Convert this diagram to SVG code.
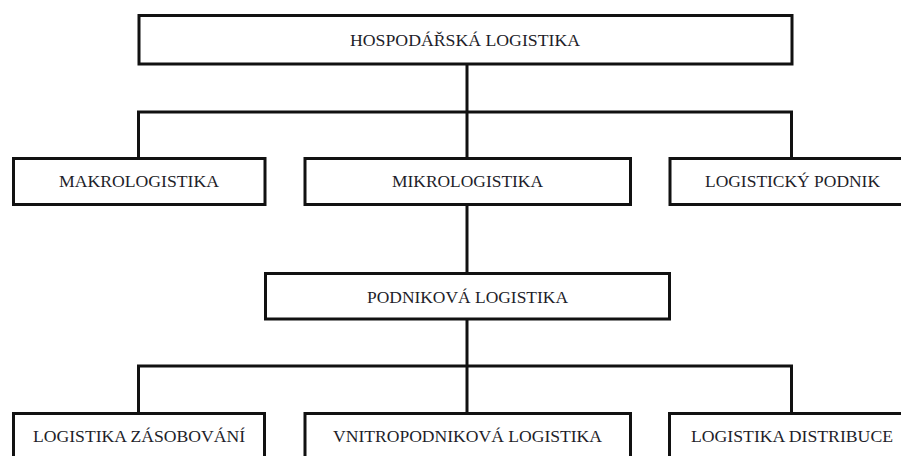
<svg xmlns="http://www.w3.org/2000/svg" width="901" height="456" viewBox="0 0 901 456">
<style>
.box{fill:#fff;stroke:#111;stroke-width:3}
.con{fill:none;stroke:#111;stroke-width:3;stroke-linecap:square}
.lbl{font-family:"Liberation Serif","Times New Roman",serif;font-size:16px;fill:#1e1e2a;text-anchor:middle}
</style>
<rect width="901" height="456" fill="#fff"/>
<g id="connectors">
<path class="con" d="M467,64 V112 M138.5,158.5 V112 H791.5 V158.5 M467,112 V158.5"/>
<path class="con" d="M467,204.5 V273.5"/>
<path class="con" d="M467,319 V366 M138.5,413.5 V366 H791.5 V413.5 M467,366 V413.5"/>
</g>
<g id="hospodarska">
<rect class="box" x="139" y="15.5" width="653" height="48.5"/>
<text class="lbl" x="465" y="45.5" textLength="230" lengthAdjust="spacingAndGlyphs">HOSPODÁŘSKÁ LOGISTIKA</text>
</g>
<g id="makrologistika">
<rect class="box" x="13.5" y="158.5" width="251.5" height="46"/>
<text class="lbl" x="139" y="187" textLength="160" lengthAdjust="spacingAndGlyphs">MAKROLOGISTIKA</text>
</g>
<g id="mikrologistika">
<rect class="box" x="305" y="158.5" width="325.5" height="46"/>
<text class="lbl" x="467.5" y="187" textLength="151" lengthAdjust="spacingAndGlyphs">MIKROLOGISTIKA</text>
</g>
<g id="logisticky-podnik">
<rect class="box" x="670" y="158.5" width="250" height="46"/>
<text class="lbl" x="792.5" y="187" textLength="175" lengthAdjust="spacingAndGlyphs">LOGISTICKÝ PODNIK</text>
</g>
<g id="podnikova">
<rect class="box" x="265.5" y="273.5" width="404" height="45.5"/>
<text class="lbl" x="467.5" y="303" textLength="201" lengthAdjust="spacingAndGlyphs">PODNIKOVÁ LOGISTIKA</text>
</g>
<g id="zasobovani">
<rect class="box" x="13.5" y="413.5" width="251" height="60"/>
<text class="lbl" x="139" y="442" textLength="212" lengthAdjust="spacingAndGlyphs">LOGISTIKA ZÁSOBOVÁNÍ</text>
</g>
<g id="vnitropodnikova">
<rect class="box" x="305" y="413.5" width="325.5" height="60"/>
<text class="lbl" x="467.5" y="442" textLength="269" lengthAdjust="spacingAndGlyphs">VNITROPODNIKOVÁ LOGISTIKA</text>
</g>
<g id="distribuce">
<rect class="box" x="669.5" y="413.5" width="250" height="60"/>
<text class="lbl" x="792" y="442" textLength="202" lengthAdjust="spacingAndGlyphs">LOGISTIKA DISTRIBUCE</text>
</g>
</svg>
